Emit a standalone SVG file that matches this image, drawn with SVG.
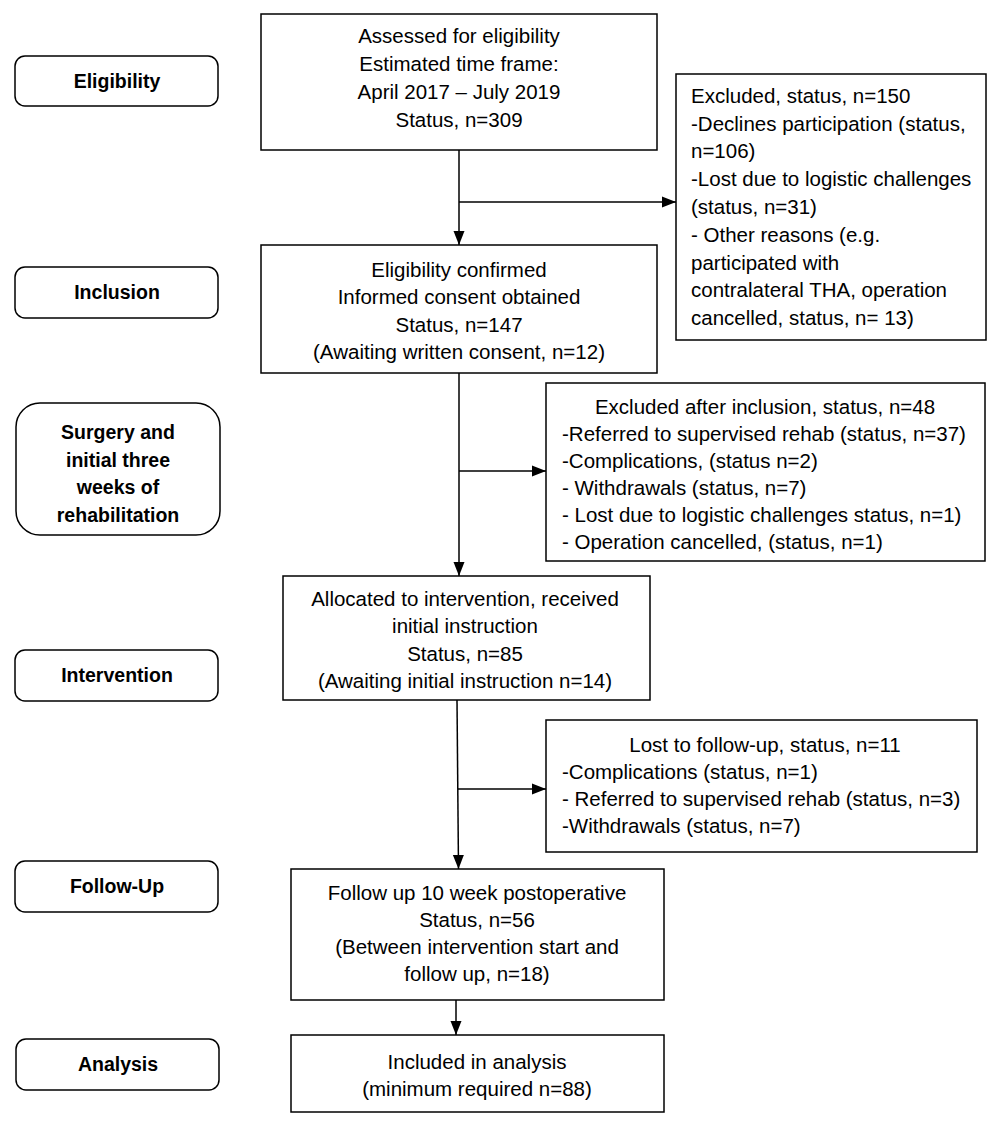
<svg xmlns="http://www.w3.org/2000/svg" width="1000" height="1128" viewBox="0 0 1000 1128">
<style>
.box{fill:#fff;stroke:#000;stroke-width:1.5}
.lab{fill:#fff;stroke:#000;stroke-width:1.5}
.t{font-family:"Liberation Sans",Arial,sans-serif;font-size:20.5px;fill:#000}
.c{text-anchor:middle}
.b{font-family:"Liberation Sans",Arial,sans-serif;font-size:19.5px;font-weight:bold;fill:#000;text-anchor:middle}
.ln{fill:none;stroke:#000;stroke-width:1.5}
</style>
<defs>
<marker id="ah" markerUnits="userSpaceOnUse" markerWidth="14" markerHeight="14" viewBox="0 0 14 14" refX="14" refY="7" orient="auto">
<path d="M0,1.5 L14,7 L0,12.5 Z" fill="#000"/>
</marker>
</defs>
<rect width="1000" height="1128" fill="#fff"/>
<g id="labels">
<g id="lab-eligibility"><rect class="lab" x="15" y="56" width="203" height="50" rx="10"/><text class="b" x="117" y="88">Eligibility</text></g>
<g id="lab-inclusion"><rect class="lab" x="15" y="267" width="203" height="51" rx="10"/><text class="b" x="117" y="299">Inclusion</text></g>
<g id="lab-surgery"><rect class="lab" x="16" y="403" width="204" height="132" rx="24"/>
<text class="b" x="118" y="439">Surgery and</text><text class="b" x="118" y="467">initial three</text><text class="b" x="118" y="494">weeks of</text><text class="b" x="118" y="522">rehabilitation</text></g>
<g id="lab-intervention"><rect class="lab" x="15" y="650" width="203" height="51" rx="10"/><text class="b" x="117" y="682">Intervention</text></g>
<g id="lab-followup"><rect class="lab" x="15" y="861" width="203" height="51" rx="10"/><text class="b" x="117" y="893">Follow-Up</text></g>
<g id="lab-analysis"><rect class="lab" x="16" y="1039" width="203" height="51" rx="10"/><text class="b" x="118" y="1071">Analysis</text></g>
</g>
<g id="connectors">
<path class="ln" d="M459,150 V245" marker-end="url(#ah)"/>
<path class="ln" d="M459,202 H676" marker-end="url(#ah)"/>
<path class="ln" d="M459,373 V576" marker-end="url(#ah)"/>
<path class="ln" d="M459,471 H546" marker-end="url(#ah)"/>
<path class="ln" d="M457,700 L458.5,869" marker-end="url(#ah)"/>
<path class="ln" d="M458,789 H546" marker-end="url(#ah)"/>
<path class="ln" d="M456,1000 V1035" marker-end="url(#ah)"/>
</g>
<g id="assessed"><rect class="box" x="261" y="14" width="396" height="136"/>
<text class="t c" x="459" y="43">Assessed for eligibility</text>
<text class="t c" x="459" y="71">Estimated time frame:</text>
<text class="t c" x="459" y="99">April 2017 – July 2019</text>
<text class="t c" x="459" y="127">Status, n=309</text></g>
<g id="excluded"><rect class="box" x="676" y="74" width="310" height="266"/>
<text class="t" x="691" y="103">Excluded, status, n=150</text>
<text class="t" x="691" y="131">-Declines participation (status,</text>
<text class="t" x="691" y="158">n=106)</text>
<text class="t" x="691" y="186">-Lost due to logistic challenges</text>
<text class="t" x="691" y="214">(status, n=31)</text>
<text class="t" x="691" y="242">- Other reasons (e.g.</text>
<text class="t" x="691" y="270">participated with</text>
<text class="t" x="691" y="297">contralateral THA, operation</text>
<text class="t" x="691" y="325">cancelled, status, n= 13)</text></g>
<g id="included"><rect class="box" x="261" y="245" width="396" height="128"/>
<text class="t c" x="459" y="277">Eligibility confirmed</text>
<text class="t c" x="459" y="304">Informed consent obtained</text>
<text class="t c" x="459" y="332">Status, n=147</text>
<text class="t c" x="459" y="359">(Awaiting written consent, n=12)</text></g>
<g id="excluded-after"><rect class="box" x="546" y="383" width="439" height="178"/>
<text class="t c" x="765" y="414">Excluded after inclusion, status, n=48</text>
<text class="t" x="562" y="441">-Referred to supervised rehab (status, n=37)</text>
<text class="t" x="562" y="468">-Complications, (status n=2)</text>
<text class="t" x="562" y="495">- Withdrawals (status, n=7)</text>
<text class="t" x="562" y="522">- Lost due to logistic challenges status, n=1)</text>
<text class="t" x="562" y="549">- Operation cancelled, (status, n=1)</text></g>
<g id="allocated"><rect class="box" x="283" y="576" width="367" height="124"/>
<text class="t c" x="465" y="606">Allocated to intervention, received</text>
<text class="t c" x="465" y="633">initial instruction</text>
<text class="t c" x="465" y="661">Status, n=85</text>
<text class="t c" x="465" y="688">(Awaiting initial instruction n=14)</text></g>
<g id="lost"><rect class="box" x="546" y="720" width="431" height="132"/>
<text class="t c" x="765" y="752">Lost to follow-up, status, n=11</text>
<text class="t" x="562" y="779">-Complications (status, n=1)</text>
<text class="t" x="562" y="806">- Referred to supervised rehab (status, n=3)</text>
<text class="t" x="562" y="833">-Withdrawals (status, n=7)</text></g>
<g id="followup"><rect class="box" x="291" y="869" width="373" height="131"/>
<text class="t c" x="477" y="900">Follow up 10 week postoperative</text>
<text class="t c" x="477" y="927">Status, n=56</text>
<text class="t c" x="477" y="954">(Between intervention start and</text>
<text class="t c" x="477" y="981">follow up, n=18)</text></g>
<g id="analysis"><rect class="box" x="291" y="1035" width="373" height="77"/>
<text class="t c" x="477" y="1069">Included in analysis</text>
<text class="t c" x="477" y="1096">(minimum required n=88)</text></g>
</svg>
